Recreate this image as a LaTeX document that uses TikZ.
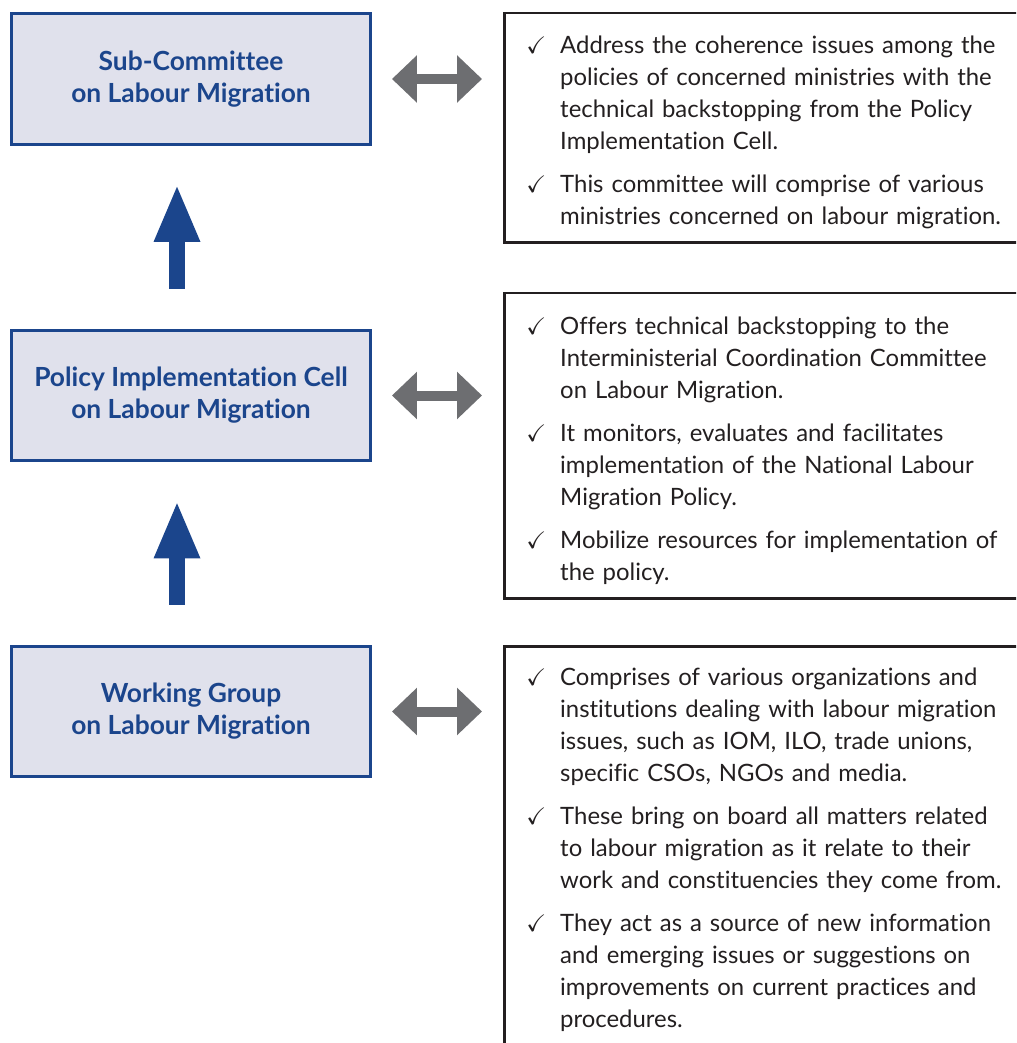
\documentclass[tikz,border=0pt]{standalone}
\usepackage{fontspec}
\setmainfont{Lato}[Ligatures=NoCommon]
\usepackage{amssymb}
\usepackage{enumitem}
\usetikzlibrary{arrows.meta,calc}

\definecolor{cellblue}{HTML}{1B458C}
\definecolor{cellfill}{HTML}{E0E1EC}
\definecolor{linkgrey}{HTML}{6D6E71}
\definecolor{inkblack}{HTML}{231F20}

\setlist[itemize]{label=$\checkmark$, leftmargin=0.68cm, labelsep=0.18cm,
  labelwidth=0.5cm, align=left, topsep=0pt, partopsep=0pt, parsep=0pt,
  itemsep=0.22cm}

\begin{document}
\begin{tikzpicture}[x=0.02cm, y=-0.02cm,
  unit/.style={draw=cellblue, line width=0.06cm, fill=cellfill,
    minimum width=7.18cm, minimum height=2.62cm, align=center,
    text=cellblue, font=\fontsize{15}{18.2}\selectfont\bfseries},
  remit/.style={draw=inkblack, line width=0.05cm, anchor=north west,
    text width=10cm, inner xsep=0.44cm, text=inkblack,
    font=\fontsize{13.6}{18.2}\selectfont},
  rise/.style={cellblue, line width=0.32cm,
    -{Triangle[length=1.16cm, width=0.84cm]},
    shorten <=0.8cm, shorten >=0.76cm},
  link/.style={linkgrey, line width=0.2cm,
    {Triangle[length=0.5cm, width=0.92cm]}-{Triangle[length=0.5cm, width=0.92cm]},
    shorten <=0.4cm, shorten >=0.42cm}]

  % page size
  \useasboundingbox (0,0) rectangle (1016,1043);
  \clip (0,0) rectangle (1016,1043);

  % left column: the three bodies
  \node[unit] (sub) at (191,79) {Sub-Committee\\on Labour Migration};
  \node[unit] (pic) at (191,395.5) {Policy Implementation Cell\\on Labour Migration};
  \node[unit] (wg)  at (191,711.5) {Working Group\\on Labour Migration};

  % right column: what each body does
  \node[remit, minimum height=4.59cm] (subnote) at (503,12) {%
    \begin{itemize}
      \item Address the coherence issues among the\\
        policies of concerned ministries with the\\
        technical backstopping from the Policy\\
        Implementation Cell.
      \item This committee will comprise of various\\
        ministries concerned on labour migration.
    \end{itemize}\vspace*{0.1cm}};

  \node[remit, minimum height=6.11cm] (picnote) at (503,292) {%
    \begin{itemize}
      \item Offers technical backstopping to the\\
        Interministerial Coordination Committee\\
        on Labour Migration.
      \item It monitors, evaluates and facilitates\\
        implementation of the National Labour\\
        Migration Policy.
      \item Mobilize resources for implementation of\\
        the policy.
    \end{itemize}\vspace*{0.1cm}};

  \node[remit, minimum height=8.08cm] (wgnote) at (503,645) {%
    \begin{itemize}
      \item Comprises of various organizations and\\
        institutions dealing with labour migration\\
        issues, such as IOM, ILO, trade unions,\\
        specific CSOs, NGOs and media.
      \item These bring on board all matters related\\
        to labour migration as it relate to their\\
        work and constituencies they come from.
      \item They act as a source of new information\\
        and emerging issues or suggestions on\\
        improvements on current practices and\\
        procedures.
    \end{itemize}\vspace*{0.24cm}};

  % upward arrows between the bodies
  \draw[rise] ([xshift=-0.28cm]pic.north) -- ([xshift=-0.28cm]sub.south);
  \draw[rise] ([xshift=-0.28cm]wg.north) -- ([xshift=-0.28cm]pic.south);

  % two-way links to the notes
  \draw[link] (sub.east) -- (sub.east -| subnote.west);
  \draw[link] (pic.east) -- (pic.east -| picnote.west);
  \draw[link] (wg.east) -- (wg.east -| wgnote.west);
\end{tikzpicture}
\end{document}
